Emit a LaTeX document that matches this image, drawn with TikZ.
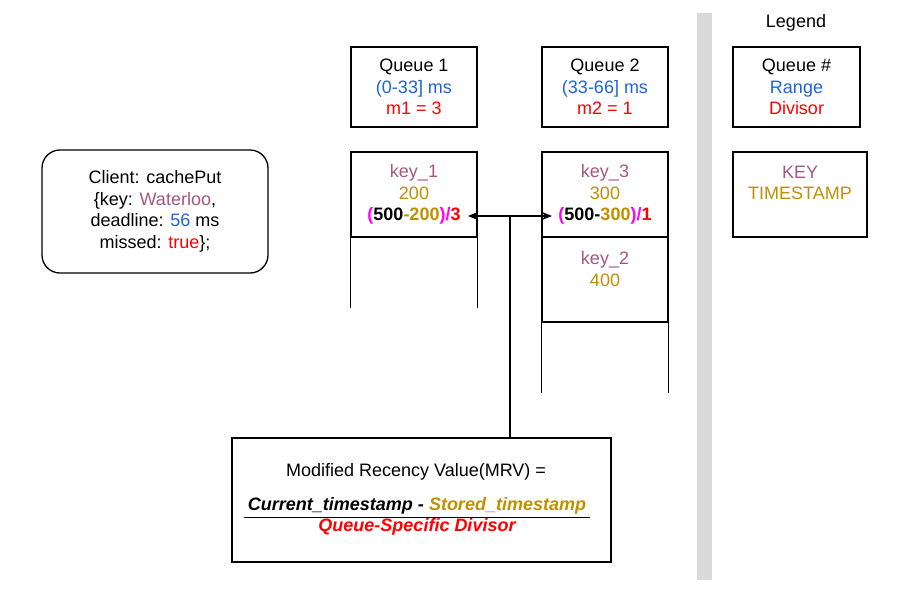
\documentclass[tikz,border=0pt]{standalone}
\usepackage{fontspec}
\setmainfont{Liberation Sans}
\usetikzlibrary{arrows.meta}
\definecolor{keyc}{HTML}{A5577F}
\definecolor{tsc}{HTML}{BF9000}
\definecolor{rangec}{HTML}{1F63DB}
\definecolor{divc}{HTML}{FF0000}
\definecolor{magc}{HTML}{FF00FF}
\definecolor{barc}{HTML}{DADADA}
\begin{document}
\begin{tikzpicture}[x=1pt,y=-1pt,
  font=\fontsize{18}{21.6}\selectfont,
  line width=1.3pt,
  box/.style={draw, inner sep=0pt, align=center, minimum width=#1},
  box/.default=126pt,
  txt/.style={inner sep=0pt, align=center},
  arr/.style={line width=1.5pt, {Stealth[length=10pt,width=8pt,inset=3pt]}-{Stealth[length=10pt,width=8pt,inset=3pt]}}]
\useasboundingbox (0,0) rectangle (907,590);
% legend separator bar
\fill[barc] (697,13) rectangle (712,580);
\node[txt] (legend) at (796,23) {Legend};
% client
\node[box=226pt, minimum height=123pt, rounded corners=18pt] (client) at (155,211.5)
  {Client: cachePut\\ \{key: \textcolor{keyc}{Waterloo},\\ deadline: \textcolor{rangec}{56} ms\\ missed: \textcolor{divc}{true}\};};
% queue headers
\node[box, minimum height=80pt] (q1h) at (414,87)
  {Queue 1\\ \textcolor{rangec}{(0-33] ms}\\ \textcolor{divc}{m1 = 3}};
\node[box, minimum height=80pt] (q2h) at (605,87)
  {Queue 2\\ \textcolor{rangec}{(33-66] ms}\\ \textcolor{divc}{m2 = 1}};
\node[box=127pt, minimum height=80pt] (lgh) at (796.5,87)
  {Queue \#\\ \textcolor{rangec}{Range}\\ \textcolor{divc}{Divisor}};
% queue 1 cells
\node[box, minimum height=85pt] (q1c) at (414,194.5)
  {\textcolor{keyc}{key\_1}\\ \textcolor{tsc}{200}\\
   \textbf{\textcolor{magc}{(}500\textcolor{tsc}{-200}\textcolor{magc}{)/}\textcolor{divc}{3}}};
\draw (q1c.south west) -- ++(0,70);
\draw (q1c.south east) -- ++(0,70);
% queue 2 cells
\node[box, minimum height=85pt] (q2c) at (605,194.5)
  {\textcolor{keyc}{key\_3}\\ \textcolor{tsc}{300}\\
   \textbf{\textcolor{magc}{(}500-\textcolor{tsc}{300}\textcolor{magc}{)/}\textcolor{divc}{1}}};
\node[box, minimum height=85pt] (q2d) at (605,279.5) {};
\node[txt] (q2dt) at (605,269) {\textcolor{keyc}{key\_2}\\ \textcolor{tsc}{400}};
\draw (q2d.south west) -- ++(0,70);
\draw (q2d.south east) -- ++(0,70);
% legend key box
\node[box=134pt, minimum height=85pt] (lgk) at (800,194.5) {};
\node[txt] (lgkt) at (800,183) {\textcolor{keyc}{KEY}\\ \textcolor{tsc}{TIMESTAMP}};
% MRV box
\node[box=379pt, minimum height=124pt] (mrv) at (421.5,500) {};
\node[txt] (mrvt) at (416,472) {Modified Recency Value(MRV) =};
\node[txt] (num) at (417,506)
  {\textbf{\textit{Current\_timestamp - \textcolor{tsc}{Stored\_timestamp}}}};
\node[txt] (den) at (417,527)
  {\textbf{\textit{\textcolor{divc}{Queue-Specific Divisor}}}};
\coordinate (fl) at (244,517);
\coordinate (fr) at (590,517);
\draw[line width=1pt] (fl) -- (fr);
% connectors
\coordinate (a1) at (468,216);
\coordinate (a2) at (552,216);
\coordinate (j) at (510,216);
\draw[arr] (a1) -- (a2);
\draw[line width=1.5pt] (j) -- (j |- mrv.north);
\end{tikzpicture}
\end{document}
